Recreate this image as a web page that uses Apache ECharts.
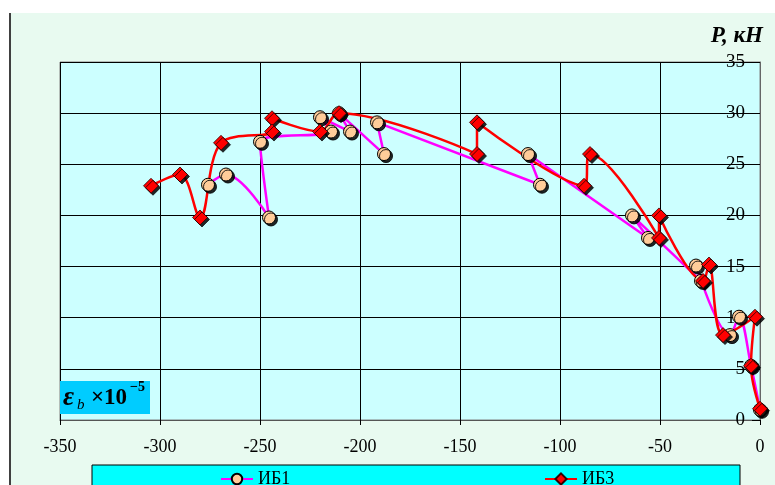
<!DOCTYPE html>
<html><head><meta charset="utf-8">
<script src="https://cdn.jsdelivr.net/npm/echarts@6/dist/echarts.min.js"></script>
<style>
html,body{margin:0;padding:0;background:#fff;width:775px;height:485px;overflow:hidden;}
#bg{position:absolute;left:9px;top:13px;width:766px;height:472px;background:#e8faf0;border-left:2px solid #404040;box-sizing:border-box;}
#chart{position:absolute;left:0;top:0;width:775px;height:485px;}
</style></head><body><div id="bg"></div><div id="chart"></div>
<script>
// ---- data ----
const seriesNames = ['ИБ1', 'ИБ3'];
const ib1X = [0, -4.5, -10.5, -15, -32, -29.5, -64, -56, -116, -110, -191.5, -188, -210.5, -205, -220, -214.5, -250, -245.5, -267, -276];
const ib1Y = [1.0, 5.3, 10.1, 8.3, 15.1, 13.6, 20.0, 17.8, 26.0, 23.0, 29.1, 26.0, 30.0, 28.2, 29.6, 28.2, 27.2, 19.8, 24.0, 23.0];
const ib3X = [0, -4.5, -2.5, -18.5, -25.5, -28.5, -50.5, -50.5, -85, -88, -141.5, -141.5, -210.5, -220, -244, -244, -269.5, -280, -290, -304.5];
const ib3Y = [1.1, 5.3, 10.1, 8.3, 15.2, 13.6, 20.0, 17.8, 26.0, 22.9, 29.1, 26.0, 30.0, 28.2, 29.5, 28.2, 27.1, 19.8, 24.0, 22.9];
const xTicks = [-350, -300, -250, -200, -150, -100, -50, 0];
const yTicks = [0, 5, 10, 15, 20, 25, 30, 35];
const yAxisTitle = 'P, кН';

const pairs = (xs, ys) => xs.map((x, i) => [x, ys[i]]);
const serif = 'Liberation Serif';
const shadow = {shadowColor: 'rgba(0,0,0,0.85)', shadowOffsetX: 2, shadowOffsetY: 2, shadowBlur: 0};

const chart = echarts.init(document.getElementById('chart'), null, {renderer: 'canvas'});
chart.setOption({
  animation: false,
  backgroundColor: 'transparent',
  grid: {left: 60, top: 62, right: 15, bottom: 65, show: true, backgroundColor: '#ccffff', borderColor: '#808080', borderWidth: 1},
  xAxis: {
    type: 'value', min: xTicks[0], max: xTicks[xTicks.length - 1], interval: xTicks[1] - xTicks[0],
    axisLine: {show: true, onZero: false, lineStyle: {color: '#555', width: 1}},
    axisTick: {show: true, length: 5, lineStyle: {color: '#000'}},
    axisLabel: {margin: 18, color: '#000', fontFamily: serif, fontSize: 18},
    splitLine: {show: true, lineStyle: {color: '#000', width: 1}}
  },
  yAxis: {
    type: 'value', position: 'right', min: yTicks[0], max: yTicks[yTicks.length - 1], interval: yTicks[1] - yTicks[0],
    axisLine: {show: true, lineStyle: {color: '#666', width: 1}},
    axisTick: {show: true, inside: true, length: 8, lineStyle: {color: '#000'}},
    axisLabel: {inside: true, margin: 15, color: '#000', fontFamily: serif, fontSize: 19},
    splitLine: {show: true, lineStyle: {color: '#000', width: 1}}
  },
  legend: [
    {data: [seriesNames[0]], left: 220, top: 470, padding: 0, itemWidth: 32, itemHeight: 13, itemGap: 4,
     textStyle: {fontFamily: serif, fontSize: 18, color: '#000'}},
    {data: [seriesNames[1]], left: 544, top: 470, padding: 0, itemWidth: 32, itemHeight: 14, itemGap: 4,
     textStyle: {fontFamily: serif, fontSize: 18, color: '#000'}}
  ],
  graphic: [
    {type: 'rect', z: 1, shape: {x: 92, y: 465, width: 648, height: 40}, style: {fill: '#00ffff', stroke: '#000', lineWidth: 1}},
    {type: 'text', z: 10, style: {x: 763, y: 36, text: yAxisTitle, align: 'right', verticalAlign: 'middle', fill: '#000',
      font: 'italic bold 23px "Liberation Serif"'}},
    {type: 'rect', z: 10, shape: {x: 60, y: 381, width: 90, height: 33}, style: {fill: '#00ccff'}},
    {type: 'text', z: 11, style: {x: 63, y: 398, text: 'ε', verticalAlign: 'middle', fill: '#000', font: 'italic bold 27px "Liberation Serif"'}},
    {type: 'text', z: 11, style: {x: 77, y: 405, text: 'b', verticalAlign: 'middle', fill: '#000', font: 'italic 15px "Liberation Serif"'}},
    {type: 'text', z: 11, style: {x: 91, y: 398, text: '×10', verticalAlign: 'middle', fill: '#000', font: 'bold 23px "Liberation Serif"'}},
    {type: 'text', z: 11, style: {x: 130, y: 387, text: '−5', verticalAlign: 'middle', fill: '#000', font: 'bold 14px "Liberation Serif"'}}
  ],
  series: [
    {name: seriesNames[0], type: 'line', data: pairs(ib1X, ib1Y), smooth: 0.35, clip: false,
     symbol: 'circle', symbolSize: 13,
     lineStyle: {color: '#ff00ff', width: 2.5},
     itemStyle: Object.assign({color: '#ffcc99', borderColor: '#000', borderWidth: 1}, shadow)},
    {name: seriesNames[1], type: 'line', data: pairs(ib3X, ib3Y), smooth: 0.35, clip: false,
     symbol: 'diamond', symbolSize: 15,
     lineStyle: {color: '#ff0000', width: 2.5},
     itemStyle: Object.assign({color: '#ff0000', borderColor: '#300', borderWidth: 0.8}, shadow)}
  ]
});
</script></body></html>
